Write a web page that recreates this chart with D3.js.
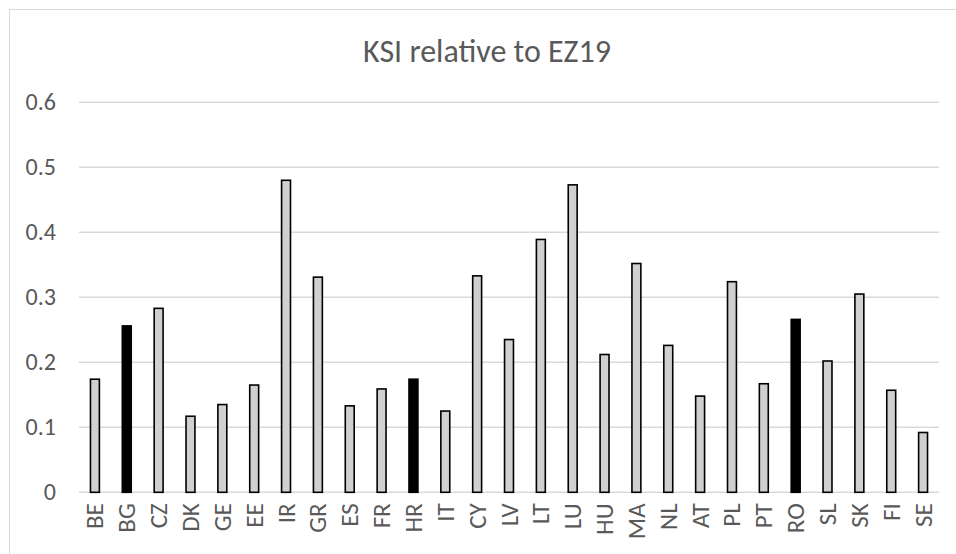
<!DOCTYPE html>
<html>
<head>
<meta charset="utf-8">
<script src="https://cdn.jsdelivr.net/npm/d3@7"></script>
<style>
  html, body { margin: 0; padding: 0; background: #ffffff; }
  svg { display: block; }
</style>
</head>
<body>
<svg id="chart" width="956" height="554"></svg>
<script>
const categories = ["BE","BG","CZ","DK","GE","EE","IR","GR","ES","FR","HR","IT","CY","LV","LT","LU","HU","MA","NL","AT","PL","PT","RO","SL","SK","FI","SE"];
const values = [0.174,0.256,0.283,0.117,0.135,0.165,0.480,0.331,0.133,0.159,0.174,0.125,0.333,0.235,0.389,0.473,0.212,0.352,0.226,0.148,0.324,0.167,0.266,0.202,0.305,0.157,0.092];
const highlighted = ["BG","HR","RO"];
const yTicks = [0, 0.1, 0.2, 0.3, 0.4, 0.5, 0.6];
const yTickLabels = ["0","0.1","0.2","0.3","0.4","0.5","0.6"];
const title = "KSI relative to EZ19";

const data = categories.map((c, i) => ({ cat: c, val: values[i] }));

const svg = d3.select("#chart");
const plot = { left: 79, right: 939, top: 102.3, bottom: 492.3 };
const font = "Calibri, Carlito, sans-serif";
const textColor = "#595959";

// chart area border
svg.append("rect")
  .attr("x", 9.5).attr("y", 9.5)
  .attr("width", 960).attr("height", 560)
  .attr("fill", "#ffffff")
  .attr("stroke", "#d9d9d9").attr("stroke-width", 1);

const x = d3.scaleBand().domain(categories).range([plot.left, plot.right]).paddingInner(0.72).paddingOuter(0.36);
const y = d3.scaleLinear().domain([0, 0.6]).range([plot.bottom, plot.top]);

// gridlines
svg.append("g")
  .selectAll("line")
  .data(yTicks)
  .join("line")
  .attr("x1", plot.left).attr("x2", plot.right)
  .attr("y1", d => y(d)).attr("y2", d => y(d))
  .attr("stroke", "#d9d9d9").attr("stroke-width", 1.5);

// y-axis labels via d3 axis
const yAxis = d3.axisLeft(y).tickValues(yTicks).tickFormat((d, i) => yTickLabels[i]).tickSize(0).tickPadding(0);
const gy = svg.append("g").attr("transform", `translate(56,0)`).call(yAxis);
gy.select(".domain").remove();
gy.selectAll("text")
  .attr("font-family", font).attr("font-size", 24).attr("fill", textColor);

// bars
svg.append("g")
  .selectAll("rect")
  .data(data)
  .join("rect")
  .attr("x", d => x(d.cat))
  .attr("width", x.bandwidth())
  .attr("y", d => y(d.val))
  .attr("height", d => y(0) - y(d.val))
  .attr("fill", d => highlighted.includes(d.cat) ? "#000000" : "#d0d0d0")
  .attr("stroke", "#000000").attr("stroke-width", 1.6);

// x-axis labels via d3 axis
const xAxis = d3.axisBottom(x).tickSize(0).tickPadding(0);
const gx = svg.append("g").attr("transform", `translate(0,${plot.bottom})`).call(xAxis);
gx.select(".domain").remove();
gx.selectAll("text")
  .attr("font-family", font).attr("font-size", 25).attr("fill", textColor)
  .attr("text-anchor", "end")
  .attr("dy", null)
  .attr("transform", "translate(0,11) rotate(-90)")
  .attr("x", 0).attr("y", 0)
  .attr("dominant-baseline", "central");

// title
svg.append("text")
  .attr("x", 487).attr("y", 62)
  .attr("text-anchor", "middle")
  .attr("font-family", font).attr("font-size", 32)
  .attr("fill", textColor)
  .text(title);
</script>
</body>
</html>
